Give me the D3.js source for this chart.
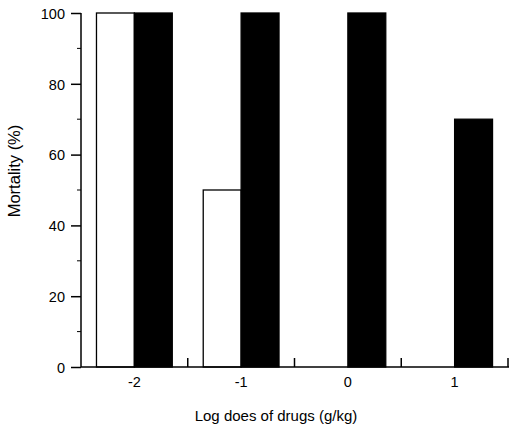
<!DOCTYPE html>
<html>
<head>
<meta charset="utf-8">
<script src="https://cdn.jsdelivr.net/npm/d3@7"></script>
<style>
  body { margin: 0; background: #fff; }
  svg text { font-family: Arial, "Liberation Sans", sans-serif; fill: #000; }
</style>
</head>
<body>
<svg id="chart" width="509" height="428"></svg>
<script>
// dose groups (log g/kg)
let doses = ["-2", "-1", "0", "1"];
// mortality (%) per group, open vs filled bars
let openBars = [100, 50, 0, 0];
let filledBars = [100, 100, 100, 70];
let series = ["open", "filled"];
let yMajor = [0, 20, 40, 60, 80, 100];
let yMinor = [10, 30, 50, 70, 90];

let svg = d3.select("#chart");
let plotL = 81, plotR = 508, plotT = 13, plotB = 367;

let x0 = d3.scaleBand().domain(doses).range([plotL, plotR])
    .paddingInner(0.29).paddingOuter(0.145);
let x1 = d3.scaleBand().domain(series).range([0, x0.bandwidth()]);
let y = d3.scaleLinear().domain([0, 100]).range([plotB, plotT]);

let rows = doses.map((d, i) => ({dose: d, open: openBars[i], filled: filledBars[i]}));

// bars
let g = svg.append("g").attr("class", "bars");
rows.forEach((r) => {
    series.forEach((s) => {
        if(r[s] <= 0) return;
        g.append("rect")
            .attr("x", x0(r.dose) + x1(s))
            .attr("y", y(r[s]))
            .attr("width", x1.bandwidth())
            .attr("height", y(0) - y(r[s]))
            .style("fill", s === "open" ? "#fff" : "#000")
            .style("stroke", "#000")
            .style("stroke-width", "1.3px");
    });
});

// y axis
let yAxis = svg.append("g").attr("transform", `translate(${plotL},0)`)
    .call(d3.axisLeft(y).tickValues(yMajor).tickSize(10).tickPadding(6).tickFormat(d3.format("d")));
yAxis.select(".domain").attr("d", `M0,${plotT}V${plotB}`).style("stroke-width", "1.5px");
yAxis.selectAll(".tick line").style("stroke-width", "1.5px");
yAxis.selectAll("text").style("font-size", "14.5px").attr("dy", "0.36em");
svg.append("g").attr("transform", `translate(${plotL},0)`)
    .selectAll("line").data(yMinor).enter().append("line")
    .attr("x1", -4).attr("x2", 0)
    .attr("y1", (d) => y(d)).attr("y2", (d) => y(d))
    .style("stroke", "#000").style("stroke-width", "1px");

// x axis: labels at group centres, ticks at group boundaries pointing up
let xAxis = svg.append("g").attr("transform", `translate(0,${plotB})`)
    .call(d3.axisBottom(x0).tickSize(0).tickPadding(10));
xAxis.select(".domain").attr("d", `M${plotL},0H${plotR + 1}`).style("stroke-width", "1.5px");
xAxis.selectAll("text").style("font-size", "14.5px");
let bounds = doses.map((d) => x0(d) - x0.step() * x0.paddingOuter() + x0.step());
svg.append("g").attr("transform", `translate(0,${plotB})`)
    .selectAll("line").data(bounds).enter().append("line")
    .attr("x1", (d) => d).attr("x2", (d) => d)
    .attr("y1", 0).attr("y2", -9)
    .style("stroke", "#000").style("stroke-width", "1.5px");

// titles
svg.append("text")
    .attr("x", 276).attr("y", 421)
    .attr("text-anchor", "middle")
    .style("font-size", "15px")
    .text("Log does of drugs (g/kg)");

svg.append("text")
    .attr("transform", "translate(20,171) rotate(-90)")
    .attr("text-anchor", "middle")
    .style("font-size", "16.5px")
    .text("Mortality (%)");
</script>
</body>
</html>
